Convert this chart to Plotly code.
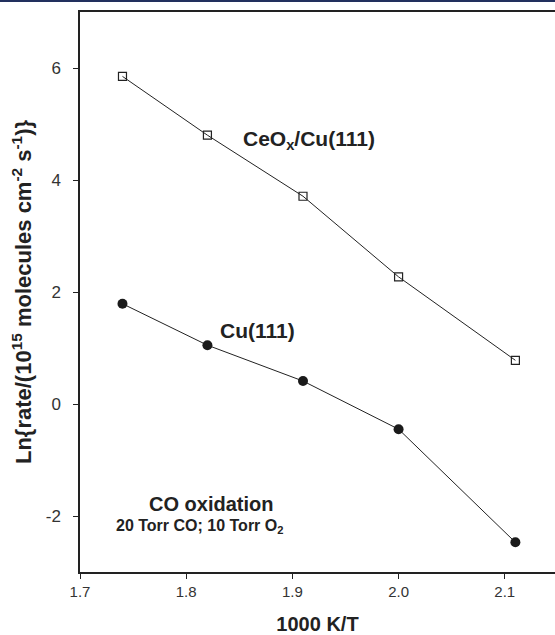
import plotly.graph_objects as go

inv_T = [1.74, 1.82, 1.91, 2.00, 2.11]
ceox_rate = [5.85, 4.80, 3.71, 2.27, 0.78]
cu_rate = [1.79, 1.05, 0.41, -0.45, -2.47]
x_ticks = [1.7, 1.8, 1.9, 2.0, 2.1]
x_tick_labels = ["1.7", "1.8", "1.9", "2.0", "2.1"]
y_ticks = [-2, 0, 2, 4, 6]
y_tick_labels = ["-2", "0", "2", "4", "6"]

FONT = "Liberation Sans, Arial, sans-serif"

fig = go.Figure()
fig.add_trace(go.Scatter(
    x=inv_T, y=ceox_rate, mode="lines+markers",
    line=dict(color="#222222", width=1),
    marker=dict(symbol="square-open", size=8, color="#222222", line=dict(width=1.2)),
    showlegend=False))
fig.add_trace(go.Scatter(
    x=inv_T, y=cu_rate, mode="lines+markers",
    line=dict(color="#222222", width=1),
    marker=dict(symbol="circle", size=10, color="#1a1a1a"),
    showlegend=False))

fig.add_annotation(x=1.916, y=4.72, xref="x", yref="y",
                   text="<b>CeO<sub>x</sub>/Cu(111)</b>", showarrow=False,
                   font=dict(family=FONT, size=21, color="#222222"))
fig.add_annotation(x=1.867, y=1.31, xref="x", yref="y",
                   text="<b>Cu(111)</b>", showarrow=False,
                   font=dict(family=FONT, size=21, color="#222222"))
fig.add_annotation(x=1.8235, y=-1.78, xref="x", yref="y",
                   text="<b>CO oxidation</b>", showarrow=False,
                   font=dict(family=FONT, size=20, color="#222222"))
fig.add_annotation(x=1.8125, y=-2.18, xref="x", yref="y",
                   text="<b>20 Torr CO; 10 Torr O<sub>2</sub></b>", showarrow=False,
                   font=dict(family=FONT, size=16, color="#222222"))

fig.add_shape(type="line", xref="paper", yref="paper",
              x0=-0.2, x1=1.0, y0=1.0196, y1=1.0196,
              line=dict(color="#22305e", width=2))

fig.update_layout(
    width=555, height=635,
    margin=dict(l=80, r=0, t=12, b=63),
    paper_bgcolor="white", plot_bgcolor="white",
    font=dict(family=FONT, color="#222222"),
)
fig.update_xaxes(
    range=[1.7, 2.1473], tickvals=x_ticks, ticktext=x_tick_labels,
    showgrid=False, zeroline=False, showline=True, linecolor="#222222", linewidth=1.5,
    mirror=True, ticks="outside", ticklen=5, tickwidth=1, tickcolor="#222222",
    tickfont=dict(family=FONT, size=15, color="#333333"),
    title=dict(text="<b>1000 K/T</b>", font=dict(family=FONT, size=20, color="#222222"), standoff=18),
)
fig.update_yaxes(
    range=[-3, 7], tickvals=y_ticks, ticktext=y_tick_labels,
    showgrid=False, zeroline=False, showline=True, linecolor="#222222", linewidth=1.5,
    mirror=False, ticks="outside", ticklen=5, tickwidth=1, tickcolor="#222222",
    ticklabelstandoff=9,
    tickfont=dict(family=FONT, size=17, color="#333333"),
    title=dict(text="<b>Ln{rate/(10<sup>15</sup> molecules cm<sup>-2</sup> s<sup>-1</sup>)}</b>",
               font=dict(family=FONT, size=22, color="#222222"), standoff=8),
)

fig.write_html("out.html")
